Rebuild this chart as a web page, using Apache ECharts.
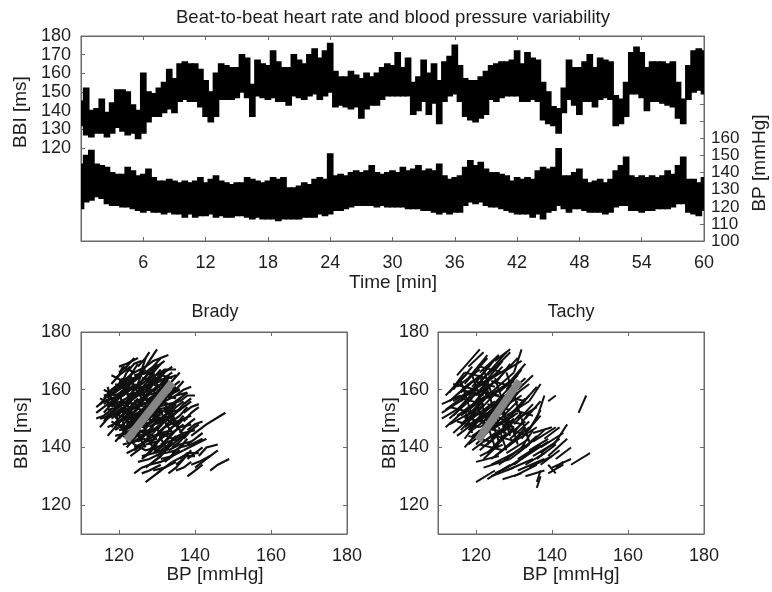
<!DOCTYPE html>
<html><head><meta charset="utf-8">
<script src="https://cdn.jsdelivr.net/npm/echarts@6/dist/echarts.min.js"></script>
<style>html,body{margin:0;padding:0;background:#fff}#c{width:772px;height:592px}</style>
</head><body><div id="c"></div>
<script>
// ---------- data ----------
const timeMin = [0,0.5,1,1.5,2,2.5,3,3.5,4,4.5,5,5.5,6,6.5,7,7.5,8,8.5,9,9.5,10,10.5,11,11.5,12,12.5,13,13.5,14,14.5,15,
15.5,16,16.5,17,17.5,18,18.5,19,19.5,20,20.5,21,21.5,22,22.5,23,23.5,24,24.5,25,25.5,26,26.5,27,27.5,28,28.5,29,29.5,30,
30.5,31,31.5,32,32.5,33,33.5,34,34.5,35,35.5,36,36.5,37,37.5,38,38.5,39,39.5,40,40.5,41,41.5,42,42.5,43,43.5,44,44.5,45,
45.5,46,46.5,47,47.5,48,48.5,49,49.5,50,50.5,51,51.5,52,52.5,53,53.5,54,54.5,55,55.5,56,56.5,57,57.5,58,58.5,59,59.5,60];
const bbiHigh = [145,152,140,141,146,139,144,151,151,150,143,140,160,150,149,152,155,162,157,165,166,165,165,162,156,150,160,165,164,163,163,
170,168,154,167,165,164,172,166,163,163,170,167,165,170,173,168,172,176,161,158,158,161,159,157,160,158,160,163,165,164,
171,163,168,155,158,167,160,165,156,166,169,175,164,157,156,156,158,161,164,165,166,166,167,172,165,171,168,167,155,150,
142,141,152,167,163,163,166,170,163,168,167,166,148,146,155,171,174,171,163,166,166,166,165,166,155,146,164,172,173,172];
const bbiLow = [132,127,126,128,128,126,128,131,129,127,128,125,128,134,137,137,139,141,139,145,146,145,145,142,137,134,137,146,146,146,147,
150,147,137,148,147,146,147,145,145,143,148,147,146,148,149,146,148,150,142,143,142,141,142,136,141,143,143,146,148,148,
148,148,148,138,140,145,138,144,133,145,148,149,145,137,135,134,136,138,146,145,147,148,148,148,145,145,146,145,135,133,
132,128,139,146,143,138,145,145,142,146,147,146,132,133,137,149,149,147,140,145,145,144,143,142,136,133,146,150,151,149];
const bpHigh = [145,150,153,145,144,143,140,139,139,143,141,138,139,142,137,135,135,136,135,134,135,134,135,137,134,136,138,135,134,133,134,
134,137,136,135,134,135,137,136,137,131,131,132,134,133,136,137,136,151,138,139,138,140,141,140,141,144,140,139,140,141,
140,143,141,142,144,141,142,141,145,138,136,137,138,143,147,144,146,142,140,140,139,138,135,137,136,137,136,141,143,142,
143,154,138,138,140,142,136,134,135,136,134,136,141,144,149,138,137,138,137,138,137,138,141,139,144,149,136,136,134,137];
const bpLow = [119,123,124,126,125,122,121,121,120,120,119,118,117,118,117,117,116,117,116,116,114,116,114,115,115,116,114,115,114,114,115,
115,114,113,114,113,113,113,112,113,113,113,113,114,114,114,116,115,116,118,118,119,120,121,121,121,121,120,121,120,120,
120,120,119,119,119,118,118,117,116,117,116,117,117,121,123,122,123,121,120,120,119,118,117,116,116,116,114,116,113,117,
118,121,119,117,119,119,118,117,117,117,116,117,120,121,121,118,118,117,118,118,119,119,119,120,122,122,117,116,115,118];

const timeTicks = [6,12,18,24,30,36,42,48,54,60];
const bbiTicks = [120,130,140,150,160,170,180];
const bpTicks = [100,110,120,130,140,150,160,170,180];
const bpTickLabels = [100,110,120,130,140,150,160];
const scatterTicks = [120,140,160,180];

// Brady: short BP/BBI sequences [bp1,bbi1,bp2,bbi2,bp3,bbi3]
const bradySegments = [
[126,166,128,170,130,174],[124,163,126,167,127,171],[121,162,123,165,125,169],[128,165,130,168,132,170],
[130,163,132,166,134,168],[119,160,121,163,122,166],[127,160,129,164,131,167],[132,160,134,163,136,166],
[123,158,125,162,126,166],[117,157,119,160,121,164],[115,155,117,158,119,161],[116,152,118,155,120,158],
[119,156,121,159,123,162],[122,154,124,158,126,161],[125,155,127,158,129,162],[128,156,130,159,132,162],
[131,155,133,158,135,161],[134,154,136,157,138,159],[118,158,120,161,122,163],[121,160,123,163,125,165],
[124,161,126,163,128,166],[127,163,129,166,131,169],[120,157,122,159,124,162],[126,158,128,161,130,164],
[129,159,131,162,133,165],[133,157,135,160,137,163],[136,156,138,158,140,158],[117,154,119,157,121,160],
[114,152,116,154,118,156],[116,149,118,152,120,155],[119,150,121,153,123,156],[122,149,124,152,126,155],
[125,150,127,153,129,156],[128,150,130,153,132,156],[131,150,133,152,135,155],[134,149,136,151,138,154],
[137,149,139,152,141,154],[115,147,117,150,119,152],[118,147,120,150,122,153],[121,146,123,149,125,152],
[124,147,126,150,128,153],[127,147,129,150,131,152],[130,146,132,149,134,151],[133,146,135,148,137,151],
[136,145,138,148,140,150],[120,152,122,155,124,158],[123,151,125,154,127,157],[126,152,128,155,130,158],
[129,153,131,156,133,159],[132,152,134,155,136,157],[117,144,119,147,121,150],[120,143,122,146,124,149],
[123,143,125,146,127,149],[126,143,128,146,130,149],[129,143,131,146,133,148],[132,142,134,145,136,147],
[135,142,137,144,139,146],[138,141,140,143,142,145],[122,140,124,143,126,146],[125,140,127,142,129,145],
[128,139,130,142,132,145],[131,139,133,141,135,144],[134,138,136,140,138,143],[121,145,123,148,125,151],
[130,144,132,147,134,150],[124,145,126,148,128,151],[123,137,125,139,127,141],[126,136,128,138,130,141],
[129,135,131,137,133,140],[132,135,134,137,136,139],[135,134,137,136,139,139],[138,136,140,138,142,140],
[127,133,129,135,131,137],[124,131,126,133,128,134],[127,128,129,130,131,132],[130,131,132,133,134,135],
[133,131,135,133,137,136],[139,144,143,148,148,152],[137,139,140,141,143,143],[140,133,143,136,146,139],
[139,134,141,135,144,137],[144,132,146,134,149,136],[135,132,137,133,139,135],[141,137,143,140,146,141],
[138,130,140,132,142,134],[136,136,138,138,141,138],[118,162,120,165,121,168],[120,166,122,168,124,171],
[125,168,127,171,128,173],[129,168,131,171,133,172],[122,166,124,169,126,170],[117,151,119,153,121,156],
[119,147,121,150,123,152],[122,157,124,160,126,163],[125,159,127,162,129,165],[128,161,130,164,132,167],
[131,161,133,164,135,165],[116,157,118,160,120,162],[118,154,120,157,122,160],[121,151,123,154,125,157],
[124,149,126,152,128,155],[127,149,129,152,131,155],[130,148,132,151,134,154],[133,151,135,154,137,156],
[135,152,137,155,139,157],[120,149,122,151,124,154],[123,147,125,150,127,153],[126,145,128,148,130,151],
[129,145,131,148,133,150],[132,144,134,147,136,149],[135,147,137,150,139,151],[119,142,121,145,123,148],
[122,142,124,145,126,148],[125,142,127,145,129,147],[128,141,130,144,132,147],[131,141,133,143,135,146],
[134,140,136,142,138,145],[137,143,139,146,141,148],[124,139,126,141,128,144],[127,137,129,140,131,143],
[130,137,132,139,134,142],[133,136,135,139,137,141],[120,154,122,156,124,159],[123,156,125,159,127,162],
[126,156,128,159,130,161],[129,157,131,160,133,163],[132,158,134,161,136,163],[119,164,121,166,123,168],
[126,163,128,166,130,169],[116,150,118,152,120,154],[114,150,116,151,118,153],
[116,158,119,159,122,162],[118,160,121,161,124,164],[121,163,124,164,127,167],[124,165,127,166,130,169],
[119,155,122,157,125,158],[122,158,125,159,128,162],[125,160,128,162,131,163],[128,162,131,163,134,166],
[117,153,120,154,123,157],[120,155,123,156,126,159],[123,153,126,155,129,156],[126,155,129,156,132,159],
[129,156,132,157,135,160],[132,156,135,158,138,159],[115,150,118,151,121,154],[118,151,121,153,124,154],
[121,150,124,151,127,154],[124,151,127,152,130,155],[127,152,130,154,133,155],[130,153,133,154,136,157],
[133,152,136,153,139,156],[117,147,120,149,123,150],[120,146,123,147,126,150],[123,148,126,149,129,152],
[126,147,129,149,132,150],[129,148,132,149,135,152],[132,147,135,149,138,150],[119,144,122,145,125,148],
[122,143,125,145,128,146],[125,144,128,145,131,148],[128,143,131,145,134,146],[131,144,134,145,137,148],
[134,143,137,145,140,146],[121,141,124,142,127,145],[124,140,127,142,130,143],[127,141,130,142,133,145],
[130,140,133,142,136,143],[133,139,136,141,139,142],[126,137,129,138,132,141],[129,138,132,139,135,142],
[136,140,139,141,142,143],[120,168,122,169,125,171],[127,168,129,170,131,171],[130,165,132,167,135,167],
[114,154,116,156,118,157],[116,155,118,157,121,158],[118,157,121,158,123,161],[135,158,137,160,139,161],
[137,152,139,154,141,155],[138,146,140,148,142,149],[124,156,127,157,129,160],[127,158,130,159,132,162],
[121,158,123,160,126,161],[126,150,129,151,131,153],[122,145,125,147,127,149],[131,150,134,151,136,153],
[125,135,128,136,131,138],[128,134,131,135,134,137],[131,136,134,137,137,139],[122,138,125,140,127,142],
[134,135,137,137,140,137],[126,131,128,132,131,134],[129,132,132,133,135,135],
[118,165,121,163,124,166],[121,168,124,166,127,168],[116,160,119,158,122,160],[119,162,122,160,125,161],
[124,162,126,159,129,160],[127,164,130,161,133,163],[130,160,133,158,136,160],[115,157,118,155,121,156],
[120,153,123,151,126,152],[125,156,128,154,131,155],[130,157,133,155,136,156],[118,149,121,147,124,148],
[123,150,126,148,129,149],[128,152,131,150,134,151],[133,149,136,147,139,148],[121,144,124,142,127,143],
[126,146,129,144,132,145],[131,145,134,143,137,144],[124,141,127,139,130,140],[129,140,132,138,135,139],
[117,161,118,157,120,154],[120,159,121,155,123,151],[123,165,124,161,126,157],[126,161,127,157,129,153],
[129,166,130,162,132,158],[132,156,133,152,135,148],[119,152,120,148,122,144],[122,156,123,152,125,148],
[125,152,126,148,128,144],[128,157,129,153,131,149],[131,153,132,149,134,145],[134,152,135,148,137,144],
[127,146,128,142,130,138],[130,147,131,143,133,139],[124,148,125,144,127,140],[121,149,122,145,124,141],
[118,150,121,153,124,152],[121,152,124,155,127,154],[124,154,127,157,130,156],[127,156,130,159,133,158],
[118,156,121,159,124,158],[121,158,124,161,127,160],[124,160,127,163,130,162],[127,161,130,164,133,163],
[119,146,122,149,125,148],[122,148,125,151,128,150],[125,149,128,152,131,151],[128,147,131,150,134,149],
[120,160,122,163,125,164],[123,162,125,165,128,166],[117,155,120,154,123,157],[120,151,123,150,126,153],
[123,154,126,153,129,156],[126,157,129,156,132,159],[129,150,132,149,135,152],[119,148,122,147,125,150],
[122,151,125,150,128,153],[125,146,128,145,131,148],[128,153,131,152,134,155],[121,156,124,155,127,158],
[124,159,127,158,130,161],[127,150,130,149,133,152],[117,159,120,158,123,161],[120,163,123,162,126,165],
[126,164,129,163,132,166],[123,145,126,144,129,147],[130,155,132,158,135,157],[131,158,133,161,136,160],
[119,153,121,156,124,155],[129,162,131,165,134,164],[122,147,124,150,127,149],[126,148,128,151,131,150]
];
// Tachy: [bp1,bbi1,bp2,bbi2]
const tachySegments = [
[115,165,121,174],[117,162,123,171],[120,163,126,172],[123,165,129,173],[126,164,131,171],[129,163,133,169],
[130,166,132,174],[112,158,118,166],[114,160,119,168],[118,158,124,167],[121,160,127,168],[124,159,130,166],
[127,157,133,164],[131,160,135,165],[116,156,122,164],[120,156,125,163],[111,152,117,157],[111,155,116,158],
[113,150,119,157],[115,153,120,160],[117,150,123,158],[119,152,124,159],[121,149,127,157],[123,151,128,158],
[125,148,131,156],[128,150,133,157],[130,148,135,155],[133,150,137,156],[134,146,137,153],[136,150,138,158],
[112,147,118,154],[114,145,120,152],[116,148,122,155],[118,146,124,153],[120,144,126,151],[122,146,127,153],
[124,143,130,150],[127,145,132,152],[129,143,134,149],[132,143,136,150],[118,141,124,147],[121,139,127,146],
[123,141,129,148],[126,138,132,145],[128,140,134,147],[131,138,136,144],[133,140,138,146],[135,142,141,147],
[137,140,143,145],[124,136,130,142],[127,135,133,141],[130,134,136,140],[132,136,139,142],[119,143,124,149],
[120,135,126,137],[122,133,129,136],[125,131,131,135],[128,132,135,136],[131,132,138,136],[134,133,140,137],
[137,134,142,139],[120,128,125,132],[124,130,130,133],[127,129,132,131],[133,130,138,132],[136,128,137,132],
[136,126,137,130],[139,131,143,134],[140,133,145,136],[141,136,145,140],[139,137,144,143],[140,140,144,148],
[139,134,141,131],[145,134,150,138],[141,133,143,135],[139,156,141,158],[147,152,149,158],[135,145,140,147],
[113,156,119,163],[116,159,121,165],[119,161,124,169],[122,162,127,170],[125,162,129,169],[128,160,132,167],
[114,151,120,159],[118,153,123,161],[121,153,126,160],[124,154,129,161],[127,152,131,159],[130,152,134,158],
[116,146,121,153],[119,148,124,155],[122,149,126,156],[125,150,129,157],[127,147,131,154],[130,145,134,152],
[120,141,125,148],[123,138,128,145],[125,140,130,147],[129,141,133,147],[132,140,135,146],[117,143,121,150],
[126,134,131,139],[129,136,134,141],[135,137,140,141],[122,136,126,141],
[112,153,119,160],[113,159,117,166],[115,161,121,167],[118,164,123,172],[121,166,126,172],
[124,167,128,173],[127,166,132,170],[117,155,123,162],[120,158,126,164],[123,157,129,163],
[126,159,131,165],[129,157,134,162],[132,155,136,161],[113,148,120,153],[116,151,122,157],
[119,150,125,156],[122,152,128,158],[125,153,131,159],[128,151,134,156],[131,150,136,154],
[115,144,121,150],[118,145,124,151],[121,147,127,152],[124,146,130,151],[127,143,133,149],
[130,142,136,147],[133,145,137,151],[119,139,125,145],[122,142,128,147],[125,137,131,143],
[128,138,134,143],[131,136,137,141],[134,139,139,143],[121,137,127,141],[124,134,130,138],
[127,132,133,137],[130,130,136,134],[123,129,129,134],[133,134,138,138],[136,136,141,141],
[118,168,122,173],[125,170,129,174],[111,150,116,154],[114,157,118,162],[134,156,137,162],
[117,140,121,146],[138,143,142,147],[137,138,142,143],
[114,162,120,160],[117,166,123,164],[121,168,127,166],[113,154,119,152],[116,157,122,155],
[120,160,126,158],[124,163,130,161],[115,149,121,147],[119,152,125,150],[123,155,129,153],
[127,158,133,156],[118,144,124,142],[122,147,128,145],[126,150,132,148],[130,153,135,151],
[121,141,127,139],[125,144,131,142],[129,146,134,144],[116,163,118,155],[119,165,121,157],
[122,167,124,159],[125,164,127,156],[128,166,130,158],[118,155,120,147],[121,157,123,149],
[124,156,126,148],[127,154,129,146],[130,158,132,150],[123,148,125,140],[126,147,128,139],
[129,149,131,141],[132,150,134,142],
[114,156,120,161],[117,158,123,163],[120,161,126,166],[123,163,129,168],[115,151,121,156],
[118,154,124,159],[121,156,127,161],[124,158,130,163],[117,147,123,152],[120,149,126,154],
[123,151,129,156],[126,153,132,158],[119,144,125,149],[122,145,128,150],[125,147,131,152],
[116,160,122,158],[119,163,125,161],[122,159,128,157],[118,150,124,148],[121,152,127,150],
[124,149,130,147],[117,153,119,145],[120,156,122,148],[123,160,125,152],[126,157,128,149],
[121,165,123,157],[124,150,126,142],[127,152,129,144]
];
const bradyFit = [[122,142.5],[134,162.5]];
const tachyFit = [[120.5,142.5],[131.5,163]];

// ---------- chart ----------
const FONT = '"Liberation Sans", Arial, Helvetica, sans-serif';
const TXT = '#1e1e1e';
const AX = '#6a6a6a';
const chart = echarts.init(document.getElementById('c'), null, {renderer: 'canvas'});

function segToCoords(s) { const c = []; for (let i = 0; i < s.length; i += 2) c.push([s[i], s[i + 1]]); return {coords: c}; }
function bandData(lo, hi) { return timeMin.map((t, i) => [t, lo[i], hi[i]]); }
function bandRender(lo, hi) {
  return function (params, api) {
    const i = params.dataIndex;
    const n = timeMin.length;
    const t = api.value(0);
    const tl = i > 0 ? (timeMin[i - 1] + t) / 2 : t;
    const tr = i < n - 1 ? (timeMin[i + 1] + t) / 2 : t;
    const p = [
      api.coord([tl, api.value(1)]),
      api.coord([tl, api.value(2)]),
      api.coord([tr, api.value(2)]),
      api.coord([tr, api.value(1)])
    ];
    return {type: 'polygon', shape: {points: p}, style: {fill: '#000', stroke: '#000', lineWidth: 1.5}};
  };
}

function xAx(grid, min, max, ticks, pos, showLabel) {
  return {
    type: 'value', gridIndex: grid, min: min, max: max, position: pos,
    axisLine: {show: true, onZero: false, lineStyle: {color: AX, width: 1}},
    axisTick: {show: true, inside: true, length: 4, customValues: ticks, lineStyle: {color: AX}},
    axisLabel: {show: showLabel, customValues: ticks, fontSize: 18, fontFamily: FONT, color: TXT, margin: 13,
      showMinLabel: true, showMaxLabel: true, hideOverlap: false, interval: 0},
    splitLine: {show: false}
  };
}
function yAx(grid, min, max, ticks, labels, pos, showLabel, margin, fs) {
  return {
    type: 'value', gridIndex: grid, min: min, max: max, position: pos,
    axisLine: {show: true, onZero: false, lineStyle: {color: AX, width: 1}},
    axisTick: {show: true, inside: true, length: 4, customValues: ticks, lineStyle: {color: AX}},
    axisLabel: {show: showLabel, customValues: labels, fontSize: fs || 18, fontFamily: FONT, color: TXT, margin: margin,
      showMinLabel: true, showMaxLabel: true, hideOverlap: false, interval: 0},
    splitLine: {show: false}
  };
}

const gridBase = {show: true, borderColor: AX, borderWidth: 1, backgroundColor: 'transparent', containLabel: false};
function txt(x, y, s, size, rot) {
  return {type: 'text', x: x, y: y, rotation: rot || 0, z: 100,
    style: {text: s, font: size + 'px ' + FONT, fill: TXT, align: 'center', verticalAlign: 'middle'}};
}

const option = {
  animation: false,
  backgroundColor: '#fff',
  grid: [
    Object.assign({left: 81, top: 36, width: 623, height: 205}, gridBase),
    Object.assign({left: 81, top: 332, width: 266, height: 202}, gridBase),
    Object.assign({left: 438, top: 332, width: 266, height: 202}, gridBase)
  ],
  xAxis: [
    xAx(0, 0, 60, timeTicks, 'bottom', true),
    xAx(0, 0, 60, timeTicks, 'top', false),
    xAx(1, 110, 180, scatterTicks, 'bottom', true),
    xAx(1, 110, 180, scatterTicks, 'top', false),
    xAx(2, 110, 180, scatterTicks, 'bottom', true),
    xAx(2, 110, 180, scatterTicks, 'top', false)
  ],
  yAxis: [
    yAx(0, 70, 180, bbiTicks, bbiTicks, 'left', true, 10),
    yAx(0, 100, 220, bpTicks, bpTickLabels, 'right', true, 7, 17),
    yAx(1, 110, 180, scatterTicks, scatterTicks, 'left', true, 10),
    yAx(1, 110, 180, scatterTicks, scatterTicks, 'right', false, 8),
    yAx(2, 110, 180, scatterTicks, scatterTicks, 'left', true, 9),
    yAx(2, 110, 180, scatterTicks, scatterTicks, 'right', false, 8)
  ],
  series: [
    {type: 'custom', name: 'BBI', xAxisIndex: 0, yAxisIndex: 0, clip: true, silent: true,
     data: bandData(bbiLow, bbiHigh), encode: {x: 0, y: [1, 2]}, renderItem: bandRender(bbiLow, bbiHigh)},
    {type: 'custom', name: 'BP', xAxisIndex: 0, yAxisIndex: 1, clip: true, silent: true,
     data: bandData(bpLow, bpHigh), encode: {x: 0, y: [1, 2]}, renderItem: bandRender(bpLow, bpHigh)},
    {type: 'lines', coordinateSystem: 'cartesian2d', xAxisIndex: 2, yAxisIndex: 2, polyline: true,
     data: bradySegments.map(segToCoords), lineStyle: {color: '#111', width: 2.2, opacity: 1}, silent: true},
    {type: 'line', xAxisIndex: 2, yAxisIndex: 2, data: bradyFit, symbol: 'none', z: 5,
     lineStyle: {color: '#858585', width: 8, cap: 'butt'}, silent: true},
    {type: 'lines', coordinateSystem: 'cartesian2d', xAxisIndex: 4, yAxisIndex: 4, polyline: true,
     data: tachySegments.map(segToCoords), lineStyle: {color: '#111', width: 2.0, opacity: 1}, silent: true},
    {type: 'line', xAxisIndex: 4, yAxisIndex: 4, data: tachyFit, symbol: 'none', z: 5,
     lineStyle: {color: '#858585', width: 8, cap: 'butt'}, silent: true}
  ],
  graphic: [
    txt(393, 18, 'Beat-to-beat heart rate and blood pressure variability', 18.6),
    txt(393, 283, 'Time [min]', 19),
    txt(21, 112, 'BBI [ms]', 19, Math.PI / 2),
    txt(760, 163, 'BP [mmHg]', 19, Math.PI / 2),
    txt(215, 312, 'Brady', 18),
    txt(571, 312, 'Tachy', 18),
    txt(22, 433, 'BBI [ms]', 19, Math.PI / 2),
    txt(390, 433, 'BBI [ms]', 19, Math.PI / 2),
    txt(215, 575, 'BP [mmHg]', 19),
    txt(571, 575, 'BP [mmHg]', 19)
  ]
};
chart.setOption(option);
</script>
</body></html>
